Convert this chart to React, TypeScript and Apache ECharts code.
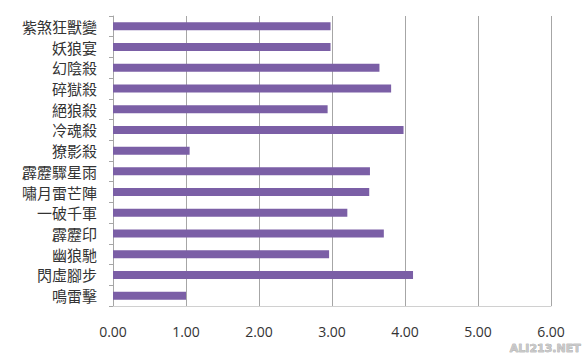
import React, { useEffect, useRef } from "react";
import * as echarts from "echarts";

const categories = [
  "紫煞狂獸變",
  "妖狼宴",
  "幻陰殺",
  "碎獄殺",
  "絕狼殺",
  "冷魂殺",
  "獠影殺",
  "霹靂驟星雨",
  "嘯月雷芒陣",
  "一破千軍",
  "霹靂印",
  "幽狼馳",
  "閃虛腳步",
  "鳴雷擊",
];

const values = [2.98, 2.98, 3.65, 3.81, 2.94, 3.98, 1.05, 3.52, 3.51, 3.21, 3.71, 2.96, 4.11, 1.0];

export default function App() {
  const ref = useRef<HTMLDivElement>(null);
  useEffect(() => {
    if (!ref.current) return;
    const chart = echarts.init(ref.current, undefined, { renderer: "svg" });
    chart.setOption({
      animation: false,
      backgroundColor: "#ffffff",
      grid: { left: 113, right: 33, top: 16, bottom: 52, containLabel: false },
      xAxis: {
        type: "value",
        min: 0,
        max: 6,
        interval: 1,
        axisLine: { show: true, lineStyle: { color: "#d0d0d0", width: 1 } },
        axisTick: { show: false },
        splitLine: { show: true, lineStyle: { color: "#a6a6a6", width: 1 } },
        axisLabel: {
          formatter: (v: number) => v.toFixed(2),
          color: "#333333",
          fontSize: 14,
          margin: 18,
          fontFamily: "Open Sans, DejaVu Sans, sans-serif",
        },
      },
      yAxis: {
        type: "category",
        data: categories,
        inverse: true,
        axisLine: { show: true, lineStyle: { color: "#a6a6a6", width: 1 } },
        axisTick: { show: true, length: 4, inside: false, lineStyle: { color: "#a6a6a6" } },
        axisLabel: {
          interval: 0,
          color: "#333333",
          fontSize: 15,
          lineHeight: 16,
          margin: 16,
          fontFamily: "Noto Sans CJK TC, sans-serif",
        },
        splitLine: { show: false },
      },
      series: [
        {
          type: "bar",
          data: values,
          barWidth: 8,
          itemStyle: { color: "#7b5fa6" },
        },
      ],
      graphic: [
        {
          type: "text",
          right: 3,
          top: 343,
          style: {
            text: "ALI213.NET",
            fill: "#c8c8c8",
            stroke: "#888888",
            lineWidth: 0.5,
            font: "bold 11px DejaVu Sans, sans-serif",
          },
        },
      ],
    });
    return () => chart.dispose();
  }, []);
  return <div ref={ref} style={{ width: 584, height: 358, position: "absolute", left: 0, top: 0 }} />;
}
